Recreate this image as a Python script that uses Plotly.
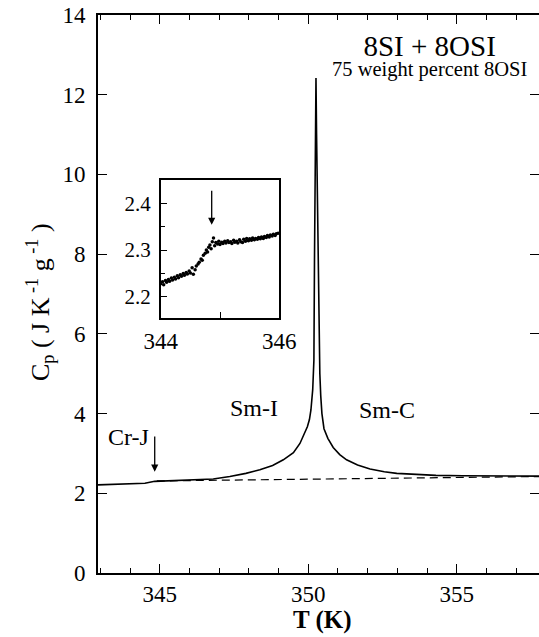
import plotly.graph_objects as go

# ---------------- data ----------------
# main heat-capacity curve (T in K, Cp in J K^-1 g^-1)
main_T = [342.92, 343.5, 344.0, 344.5, 344.83, 345.2, 345.7, 346.2, 346.8, 347.36,
          347.9, 348.37, 348.8, 349.16, 349.5, 349.72, 349.88, 349.97, 350.04, 350.09,
          350.15, 350.19, 350.21, 350.23, 350.26, 350.28, 350.30, 350.33, 350.36, 350.39,
          350.42, 350.46, 350.53, 350.66, 350.84, 351.06, 351.29, 351.66, 352.08, 352.56,
          352.98, 353.6, 354.3, 355.2, 356.2, 357.0, 357.77]
main_Cp = [2.21, 2.22, 2.23, 2.25, 2.30, 2.31, 2.32, 2.33, 2.36, 2.42,
           2.50, 2.59, 2.70, 2.84, 3.02, 3.25, 3.50, 3.67, 3.85, 4.09,
           4.60, 5.34, 7.85, 10.0, 12.42, 11.0, 10.0, 7.85, 5.90, 5.00,
           4.45, 4.00, 3.62, 3.38, 3.15, 2.97, 2.84, 2.71, 2.61, 2.54,
           2.50, 2.47, 2.45, 2.44, 2.43, 2.43, 2.43]

# dashed background line
base_T = [344.9, 357.77]
base_Cp = [2.31, 2.42]

# inset data points
inset_T = [344.00, 344.03, 344.05, 344.08, 344.10, 344.13, 344.15, 344.18, 344.20, 344.23,
           344.25, 344.28, 344.30, 344.33, 344.35, 344.38, 344.40, 344.43, 344.45, 344.48,
           344.50, 344.53, 344.55, 344.58, 344.60, 344.63, 344.65, 344.68, 344.70, 344.72,
           344.75, 344.77, 344.79, 344.81, 344.83, 344.85, 344.87, 344.89, 344.91, 344.93,
           344.96, 344.98, 345.00, 345.03, 345.05, 345.08, 345.10, 345.13, 345.15, 345.18,
           345.20, 345.23, 345.25, 345.28, 345.30, 345.33, 345.35, 345.38, 345.40, 345.43,
           345.45, 345.48, 345.50, 345.53, 345.55, 345.58, 345.60, 345.63, 345.65, 345.68,
           345.70, 345.73, 345.75, 345.78, 345.80, 345.83, 345.85, 345.88, 345.90, 345.93,
           345.95, 345.98]
inset_Cp = [2.228, 2.232, 2.226, 2.235, 2.231, 2.237, 2.233, 2.240, 2.236, 2.242,
            2.238, 2.245, 2.241, 2.247, 2.244, 2.250, 2.246, 2.252, 2.249, 2.255,
            2.251, 2.262, 2.248, 2.258, 2.266, 2.270, 2.274, 2.281, 2.278, 2.289,
            2.293, 2.300, 2.296, 2.306, 2.311, 2.303, 2.318, 2.326, 2.309, 2.316,
            2.313, 2.319, 2.312, 2.317, 2.314, 2.319, 2.315, 2.320, 2.316, 2.318,
            2.314, 2.321, 2.317, 2.319, 2.315, 2.322, 2.318, 2.316, 2.323, 2.319,
            2.325, 2.320, 2.324, 2.321, 2.326, 2.322, 2.325, 2.323, 2.327, 2.324,
            2.328, 2.325, 2.329, 2.327, 2.331, 2.328, 2.332, 2.330, 2.334, 2.331,
            2.335, 2.336]

main_xticks = [345, 350, 355]
main_yticks = [0, 2, 4, 6, 8, 10, 12, 14]
inset_xticks = [344, 346]
inset_yticks = [2.2, 2.3, 2.4]

title_line1 = "8SI + 8OSI"
title_line2 = "75 weight percent 8OSI"

# annotation anchors (data coordinates)
crj_arrow_T = 344.83
crj_arrow_Cp = [2.54, 3.46]
inset_arrow_T = 344.86
inset_arrow_Cp = [2.354, 2.43]

FONT = "Liberation Serif, Times New Roman, serif"

fig = go.Figure()
fig.add_trace(go.Scatter(x=base_T, y=base_Cp, mode="lines",
                         line=dict(color="black", width=1.2, dash="8px,5px"),
                         xaxis="x", yaxis="y", showlegend=False, hoverinfo="skip"))
fig.add_trace(go.Scatter(x=main_T, y=main_Cp, mode="lines",
                         line=dict(color="black", width=1.6),
                         xaxis="x", yaxis="y", showlegend=False))
fig.add_trace(go.Scatter(x=inset_T, y=inset_Cp, mode="markers",
                         marker=dict(color="black", size=3.5),
                         xaxis="x2", yaxis="y2", showlegend=False))
# helper trace for right-side tick axis
fig.add_trace(go.Scatter(x=[main_T[0]], y=[main_Cp[0]], mode="markers",
                         marker=dict(opacity=0), xaxis="x", yaxis="y3",
                         showlegend=False, hoverinfo="skip"))

tickfont = dict(family=FONT, size=23, color="black")
inset_yfont = dict(family=FONT, size=21, color="black")
inset_xfont = dict(family=FONT, size=23, color="black")

fig.update_layout(
    width=539, height=637,
    margin=dict(l=98, r=0, t=15, b=64, autoexpand=False),
    paper_bgcolor="white", plot_bgcolor="white",
    font=dict(family=FONT, color="black"),
    xaxis=dict(domain=[0, 1], range=[342.92, 357.77], tickvals=main_xticks,
               ticks="inside", ticklen=9, tickwidth=1.3, tickcolor="black",
               minor=dict(dtick=1, tick0=345, ticks="inside", ticklen=5, tickwidth=1.1, tickcolor="black"),
               showline=True, linecolor="black", linewidth=1.6, mirror="ticks",
               showgrid=False, zeroline=False, tickfont=tickfont, ticklabelstandoff=0,
               automargin=False),
    yaxis=dict(domain=[0, 1], range=[0, 14], tickvals=main_yticks,
               ticks="inside", ticklen=9, tickwidth=1.3, tickcolor="black",
               showline=True, linecolor="black", linewidth=1.6, mirror=False,
               showgrid=False, zeroline=False, tickfont=tickfont, ticklabelstandoff=6,
               automargin=False),
    yaxis3=dict(overlaying="y", side="right", matches="y", range=[0, 14],
                tickvals=main_yticks, ticks="inside", ticklen=9, tickwidth=1.3,
                tickcolor="black", showticklabels=False, showline=False,
                showgrid=False, zeroline=False, automargin=False),
    xaxis2=dict(domain=[0.1422, 0.4111], anchor="y2", range=[344, 346],
                tickvals=inset_xticks, ticks="inside", ticklen=7, tickwidth=1.2,
                tickcolor="black",
                minor=dict(dtick=1, tick0=344, ticks="inside", ticklen=7, tickwidth=1.2, tickcolor="black"),
                showline=True, linecolor="black", linewidth=1.5, mirror=True,
                showgrid=False, zeroline=False, tickfont=inset_xfont, ticklabelstandoff=1,
                automargin=False),
    yaxis2=dict(domain=[0.4565, 0.7043], anchor="x2", range=[2.154, 2.45],
                tickvals=inset_yticks, ticks="inside", ticklen=7, tickwidth=1.2,
                tickcolor="black",
                minor=dict(dtick=0.05, tick0=2.2, ticks="inside", ticklen=5, tickwidth=1.1, tickcolor="black"),
                showline=True, linecolor="black", linewidth=1.5, mirror=True,
                showgrid=False, zeroline=False, tickfont=inset_yfont, ticklabelstandoff=4,
                automargin=False),
)

ann = []
# arrows
ann.append(dict(x=crj_arrow_T, y=crj_arrow_Cp[0], ax=crj_arrow_T, ay=crj_arrow_Cp[1],
                xref="x", yref="y", axref="x", ayref="y", showarrow=True,
                arrowhead=2, arrowsize=1.1, arrowwidth=1.3, arrowcolor="black", text=""))
ann.append(dict(x=inset_arrow_T, y=inset_arrow_Cp[0], ax=inset_arrow_T, ay=inset_arrow_Cp[1],
                xref="x2", yref="y2", axref="x2", ayref="y2", showarrow=True,
                arrowhead=2, arrowsize=1.1, arrowwidth=1.3, arrowcolor="black", text=""))
# phase labels
for txt, tx, ty in [("Cr-J", 343.95, 3.41), ("Sm-I", 348.17, 4.14), ("Sm-C", 352.65, 4.09)]:
    ann.append(dict(x=tx, y=ty, xref="x", yref="y", text=txt, showarrow=False,
                    font=dict(family=FONT, size=24, color="black"),
                    xanchor="center", yanchor="middle"))
# title (two lines in a single text block)
ann.append(dict(x=354.07, y=12.98, xref="x", yref="y",
                text=('<span style="font-size:29px">' + title_line1 + '</span><br>'
                      '<span style="font-size:20.5px">' + title_line2 + '</span>'),
                showarrow=False, align="center",
                font=dict(family=FONT, size=15.5, color="black"),
                xanchor="center", yanchor="middle"))
# axis titles
ann.append(dict(x=0.508, y=-0.0842, xref="paper", yref="paper", text="<b>T (K)</b>",
                showarrow=False, font=dict(family=FONT, size=25, color="black"),
                xanchor="center", yanchor="middle"))
ann.append(dict(x=-0.1315, y=0.4857, xref="paper", yref="paper",
                text="C<sub>p</sub> ( J K<sup> -1</sup> g<sup> -1</sup> )",
                textangle=-90, showarrow=False, font=dict(family=FONT, size=26, color="black"),
                xanchor="center", yanchor="middle"))
fig.update_layout(annotations=ann)

fig.write_html("out.html")
